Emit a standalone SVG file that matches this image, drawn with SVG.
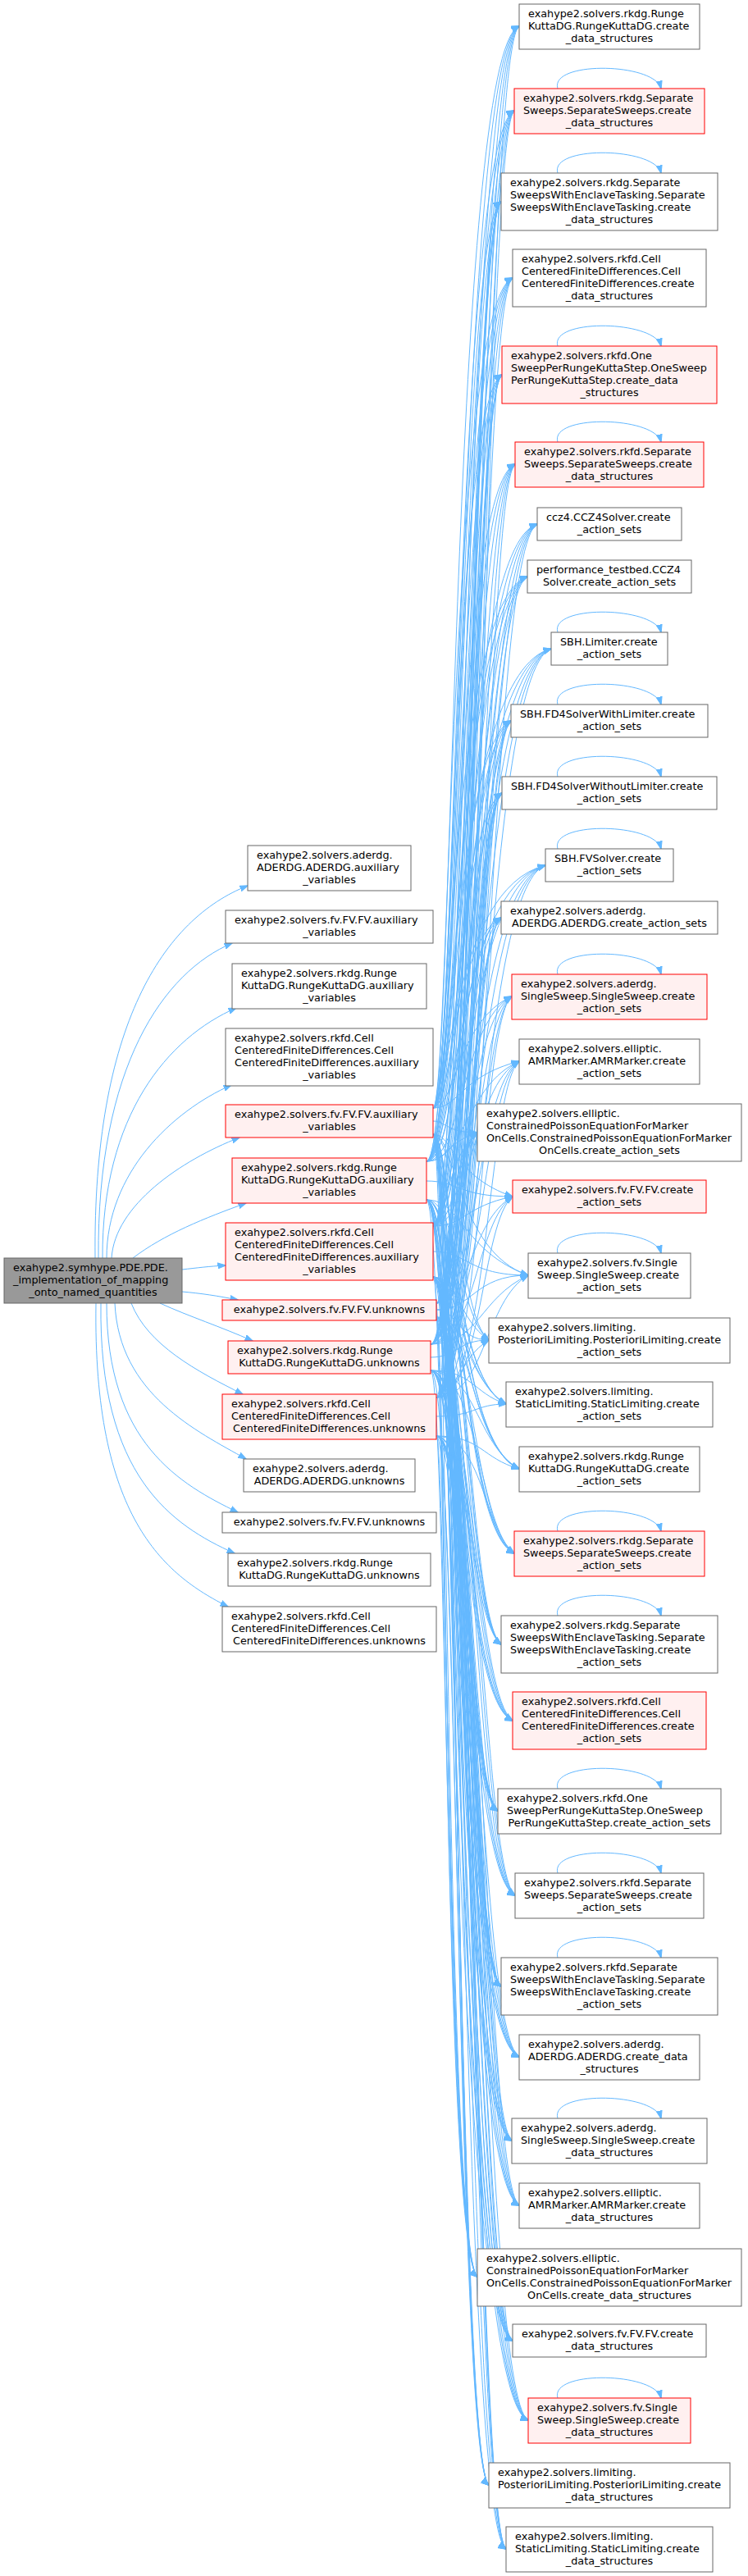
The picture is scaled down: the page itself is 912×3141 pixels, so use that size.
<svg xmlns="http://www.w3.org/2000/svg" width="912" height="3141" viewBox="0 0 912 3141">
<style>
text{font-family:"DejaVu Sans","Liberation Sans",sans-serif;font-size:12.8px;fill:#000}
.c{text-anchor:middle}
.w rect{fill:#fff;stroke:#666;stroke-width:1}
.r rect{fill:#fff0f0;stroke:#f00;stroke-width:1}
.g rect{fill:#999;stroke:#666;stroke-width:1}
#edges path{fill:none;stroke:#63b8ff;stroke-width:1;marker-end:url(#a)}
</style>
<defs>
<marker id="a" viewBox="0 0 10 8" markerWidth="10" markerHeight="8" refX="9.5" refY="4" orient="auto" markerUnits="userSpaceOnUse"><path d="M0,0.5L10,4L0,7.5z" fill="#63b8ff" stroke="#63b8ff"/></marker>
</defs>
<rect width="912" height="3141" fill="#fff"/>
<g id="edges">
<!-- root to middle -->
<path d="M116,1534 C113,1250 200,1120 302,1080"/>
<path d="M120,1534 C118,1300 200,1185 283,1150"/>
<path d="M125,1534 C124,1360 205,1265 288,1229"/>
<path d="M130,1534 C130,1430 210,1355 282,1323"/>
<path d="M136,1534 C140,1470 220,1415 292,1387"/>
<path d="M162,1534 C200,1505 250,1485 300,1467"/>
<path d="M222,1548 C240,1546 255,1544 275,1543"/>
<path d="M222,1575 C245,1577 265,1580 290,1585"/>
<path d="M195,1589 C230,1605 270,1618 308,1635"/>
<path d="M160,1589 C180,1640 240,1672 296,1700"/>
<path d="M140,1589 C145,1700 240,1745 300,1779"/>
<path d="M130,1589 C130,1760 220,1810 290,1844"/>
<path d="M123,1589 C120,1800 210,1860 286,1894"/>
<path d="M117,1589 C113,1850 200,1920 278,1959"/>
<!-- M5 -->
<path d="M528,1351 C552,1351 552,62 633,32"/>
<path d="M528,1351 C556,1351 556,165 627,135"/>
<path d="M528,1351 C560,1351 560,276 611,246"/>
<path d="M528,1351 C548,1351 548,369 625,339"/>
<path d="M528,1351 C552,1351 552,487 612,457"/>
<path d="M528,1351 C556,1351 556,596 628,566"/>
<path d="M528,1351 C560,1351 560,669 655,639"/>
<path d="M528,1351 C548,1351 548,733 643,703"/>
<path d="M528,1351 C552,1351 552,821 672,791"/>
<path d="M528,1351 C556,1351 556,909 623,879"/>
<path d="M528,1351 C560,1351 560,997 612,967"/>
<path d="M528,1351 C548,1351 548,1085 665,1055"/>
<path d="M528,1351 C552,1351 552,1149 611,1119"/>
<path d="M528,1351 C556,1351 556,1245 624,1215"/>
<path d="M528,1351 C560,1351 560,1313 633,1294"/>
<path d="M528,1367 C544,1367 544,1381 582,1381"/>
<path d="M528,1383 C552,1383 552,1434 625,1459"/>
<path d="M528,1383 C556,1383 556,1525 644,1555"/>
<path d="M528,1383 C558,1383 558,1604 596,1634"/>
<path d="M528,1383 C548,1383 548,1682 617,1712"/>
<path d="M528,1383 C552,1383 552,1761 633,1791"/>
<path d="M528,1383 C556,1383 556,1864 627,1894"/>
<path d="M528,1383 C560,1383 560,1975 611,2005"/>
<path d="M528,1383 C548,1383 548,2068 625,2098"/>
<path d="M528,1383 C552,1383 552,2178 607,2208"/>
<path d="M528,1383 C556,1383 556,2281 628,2311"/>
<path d="M528,1383 C560,1383 560,2392 611,2422"/>
<path d="M528,1383 C548,1383 548,2478 633,2508"/>
<path d="M528,1383 C552,1383 552,2580 624,2610"/>
<path d="M528,1383 C556,1383 556,2659 633,2689"/>
<path d="M528,1383 C544,1383 544,2746 582,2776"/>
<path d="M528,1383 C548,1383 548,2824 625,2854"/>
<path d="M528,1383 C552,1383 552,2921 644,2951"/>
<path d="M528,1383 C556,1383 556,3000 596,3030"/>
<path d="M528,1383 C560,1383 560,3078 617,3108"/>
<!-- M6 -->
<path d="M520,1416 C559,1416 559,62 633,32"/>
<path d="M520,1416 C563,1416 563,165 627,135"/>
<path d="M520,1416 C567,1416 567,276 611,246"/>
<path d="M520,1416 C555,1416 555,369 625,339"/>
<path d="M520,1416 C559,1416 559,487 612,457"/>
<path d="M520,1416 C563,1416 563,596 628,566"/>
<path d="M520,1416 C567,1416 567,669 655,639"/>
<path d="M520,1416 C555,1416 555,733 643,703"/>
<path d="M520,1416 C559,1416 559,821 672,791"/>
<path d="M520,1416 C563,1416 563,909 623,879"/>
<path d="M520,1416 C567,1416 567,997 612,967"/>
<path d="M520,1416 C555,1416 555,1085 665,1055"/>
<path d="M520,1416 C559,1416 559,1149 611,1119"/>
<path d="M520,1416 C563,1416 563,1245 624,1215"/>
<path d="M520,1416 C567,1416 567,1324 633,1294"/>
<path d="M520,1416 C544,1416 544,1393 582,1381"/>
<path d="M520,1440 C559,1440 559,1459 625,1459"/>
<path d="M520,1463 C563,1463 563,1525 644,1555"/>
<path d="M520,1463 C558,1463 558,1604 596,1634"/>
<path d="M520,1463 C555,1463 555,1682 617,1712"/>
<path d="M520,1463 C559,1463 559,1761 633,1791"/>
<path d="M520,1463 C563,1463 563,1864 627,1894"/>
<path d="M520,1463 C567,1463 567,1975 611,2005"/>
<path d="M520,1463 C555,1463 555,2068 625,2098"/>
<path d="M520,1463 C559,1463 559,2178 607,2208"/>
<path d="M520,1463 C563,1463 563,2281 628,2311"/>
<path d="M520,1463 C567,1463 567,2392 611,2422"/>
<path d="M520,1463 C555,1463 555,2478 633,2508"/>
<path d="M520,1463 C559,1463 559,2580 624,2610"/>
<path d="M520,1463 C563,1463 563,2659 633,2689"/>
<path d="M520,1463 C544,1463 544,2746 582,2776"/>
<path d="M520,1463 C555,1463 555,2824 625,2854"/>
<path d="M520,1463 C559,1463 559,2921 644,2951"/>
<path d="M520,1463 C558,1463 558,3000 596,3030"/>
<path d="M520,1463 C567,1463 567,3078 617,3108"/>
<!-- M7 -->
<path d="M528,1495 C566,1495 566,62 633,32"/>
<path d="M528,1495 C570,1495 570,165 627,135"/>
<path d="M528,1495 C573,1495 573,276 611,246"/>
<path d="M528,1495 C562,1495 562,369 625,339"/>
<path d="M528,1495 C566,1495 566,487 612,457"/>
<path d="M528,1495 C570,1495 570,596 628,566"/>
<path d="M528,1495 C574,1495 574,669 655,639"/>
<path d="M528,1495 C562,1495 562,733 643,703"/>
<path d="M528,1495 C566,1495 566,821 672,791"/>
<path d="M528,1495 C570,1495 570,909 623,879"/>
<path d="M528,1495 C574,1495 574,997 612,967"/>
<path d="M528,1495 C562,1495 562,1085 665,1055"/>
<path d="M528,1495 C566,1495 566,1149 611,1119"/>
<path d="M528,1495 C570,1495 570,1245 624,1215"/>
<path d="M528,1495 C574,1495 574,1324 633,1294"/>
<path d="M528,1495 C544,1495 544,1411 582,1381"/>
<path d="M528,1495 C566,1495 566,1471 625,1459"/>
<path d="M528,1526 C570,1526 570,1555 644,1555"/>
<path d="M528,1557 C558,1557 558,1608 596,1634"/>
<path d="M528,1557 C562,1557 562,1682 617,1712"/>
<path d="M528,1557 C566,1557 566,1761 633,1791"/>
<path d="M528,1557 C570,1557 570,1864 627,1894"/>
<path d="M528,1557 C573,1557 573,1975 611,2005"/>
<path d="M528,1557 C562,1557 562,2068 625,2098"/>
<path d="M528,1557 C566,1557 566,2178 607,2208"/>
<path d="M528,1557 C570,1557 570,2281 628,2311"/>
<path d="M528,1557 C573,1557 573,2392 611,2422"/>
<path d="M528,1557 C562,1557 562,2478 633,2508"/>
<path d="M528,1557 C566,1557 566,2580 624,2610"/>
<path d="M528,1557 C570,1557 570,2659 633,2689"/>
<path d="M528,1557 C544,1557 544,2746 582,2776"/>
<path d="M528,1557 C562,1557 562,2824 625,2854"/>
<path d="M528,1557 C566,1557 566,2921 644,2951"/>
<path d="M528,1557 C558,1557 558,3000 596,3030"/>
<path d="M528,1557 C574,1557 574,3078 617,3108"/>
<!-- M8 -->
<path d="M532,1589 C573,1589 573,62 633,32"/>
<path d="M532,1589 C577,1589 577,165 627,135"/>
<path d="M532,1589 C573,1589 573,276 611,246"/>
<path d="M532,1589 C569,1589 569,369 625,339"/>
<path d="M532,1589 C573,1589 573,487 612,457"/>
<path d="M532,1589 C577,1589 577,596 628,566"/>
<path d="M532,1589 C581,1589 581,669 655,639"/>
<path d="M532,1589 C569,1589 569,733 643,703"/>
<path d="M532,1589 C573,1589 573,821 672,791"/>
<path d="M532,1589 C577,1589 577,909 623,879"/>
<path d="M532,1589 C574,1589 574,997 612,967"/>
<path d="M532,1589 C569,1589 569,1085 665,1055"/>
<path d="M532,1589 C573,1589 573,1149 611,1119"/>
<path d="M532,1589 C577,1589 577,1245 624,1215"/>
<path d="M532,1589 C581,1589 581,1324 633,1294"/>
<path d="M532,1589 C544,1589 544,1411 582,1381"/>
<path d="M532,1589 C573,1589 573,1489 625,1459"/>
<path d="M532,1597 C577,1597 577,1555 644,1555"/>
<path d="M532,1597 C558,1597 558,1634 596,1634"/>
<path d="M532,1606 C569,1606 569,1682 617,1712"/>
<path d="M532,1606 C573,1606 573,1761 633,1791"/>
<path d="M532,1606 C577,1606 577,1864 627,1894"/>
<path d="M532,1606 C573,1606 573,1975 611,2005"/>
<path d="M532,1606 C569,1606 569,2068 625,2098"/>
<path d="M532,1606 C569,1606 569,2178 607,2208"/>
<path d="M532,1606 C577,1606 577,2281 628,2311"/>
<path d="M532,1606 C573,1606 573,2392 611,2422"/>
<path d="M532,1606 C569,1606 569,2478 633,2508"/>
<path d="M532,1606 C573,1606 573,2580 624,2610"/>
<path d="M532,1606 C577,1606 577,2659 633,2689"/>
<path d="M532,1606 C544,1606 544,2746 582,2776"/>
<path d="M532,1606 C569,1606 569,2824 625,2854"/>
<path d="M532,1606 C573,1606 573,2921 644,2951"/>
<path d="M532,1606 C558,1606 558,3000 596,3030"/>
<path d="M532,1606 C579,1606 579,3078 617,3108"/>
<!-- M9 -->
<path d="M525,1639 C580,1639 580,62 633,32"/>
<path d="M525,1639 C584,1639 584,165 627,135"/>
<path d="M525,1639 C573,1639 573,276 611,246"/>
<path d="M525,1639 C576,1639 576,369 625,339"/>
<path d="M525,1639 C574,1639 574,487 612,457"/>
<path d="M525,1639 C584,1639 584,596 628,566"/>
<path d="M525,1639 C588,1639 588,669 655,639"/>
<path d="M525,1639 C576,1639 576,733 643,703"/>
<path d="M525,1639 C580,1639 580,821 672,791"/>
<path d="M525,1639 C584,1639 584,909 623,879"/>
<path d="M525,1639 C574,1639 574,997 612,967"/>
<path d="M525,1639 C576,1639 576,1085 665,1055"/>
<path d="M525,1639 C573,1639 573,1149 611,1119"/>
<path d="M525,1639 C584,1639 584,1245 624,1215"/>
<path d="M525,1639 C588,1639 588,1324 633,1294"/>
<path d="M525,1639 C544,1639 544,1411 582,1381"/>
<path d="M525,1639 C580,1639 580,1489 625,1459"/>
<path d="M525,1639 C584,1639 584,1583 644,1555"/>
<path d="M525,1655 C558,1655 558,1634 596,1634"/>
<path d="M525,1671 C576,1671 576,1698 617,1712"/>
<path d="M525,1671 C580,1671 580,1761 633,1791"/>
<path d="M525,1671 C584,1671 584,1864 627,1894"/>
<path d="M525,1671 C573,1671 573,1975 611,2005"/>
<path d="M525,1671 C576,1671 576,2068 625,2098"/>
<path d="M525,1671 C569,1671 569,2178 607,2208"/>
<path d="M525,1671 C584,1671 584,2281 628,2311"/>
<path d="M525,1671 C573,1671 573,2392 611,2422"/>
<path d="M525,1671 C576,1671 576,2478 633,2508"/>
<path d="M525,1671 C580,1671 580,2580 624,2610"/>
<path d="M525,1671 C584,1671 584,2659 633,2689"/>
<path d="M525,1671 C544,1671 544,2746 582,2776"/>
<path d="M525,1671 C576,1671 576,2824 625,2854"/>
<path d="M525,1671 C580,1671 580,2921 644,2951"/>
<path d="M525,1671 C558,1671 558,3000 596,3030"/>
<path d="M525,1671 C579,1671 579,3078 617,3108"/>
<!-- M10 -->
<path d="M532,1704 C587,1704 587,62 633,32"/>
<path d="M532,1704 C589,1704 589,165 627,135"/>
<path d="M532,1704 C573,1704 573,276 611,246"/>
<path d="M532,1704 C583,1704 583,369 625,339"/>
<path d="M532,1704 C574,1704 574,487 612,457"/>
<path d="M532,1704 C590,1704 590,596 628,566"/>
<path d="M532,1704 C595,1704 595,669 655,639"/>
<path d="M532,1704 C583,1704 583,733 643,703"/>
<path d="M532,1704 C587,1704 587,821 672,791"/>
<path d="M532,1704 C585,1704 585,909 623,879"/>
<path d="M532,1704 C574,1704 574,997 612,967"/>
<path d="M532,1704 C583,1704 583,1085 665,1055"/>
<path d="M532,1704 C573,1704 573,1149 611,1119"/>
<path d="M532,1704 C586,1704 586,1245 624,1215"/>
<path d="M532,1704 C595,1704 595,1324 633,1294"/>
<path d="M532,1704 C544,1704 544,1411 582,1381"/>
<path d="M532,1704 C587,1704 587,1489 625,1459"/>
<path d="M532,1704 C591,1704 591,1585 644,1555"/>
<path d="M532,1704 C558,1704 558,1657 596,1634"/>
<path d="M532,1727 C579,1727 579,1712 617,1712"/>
<path d="M532,1751 C587,1751 587,1778 633,1791"/>
<path d="M532,1751 C589,1751 589,1864 627,1894"/>
<path d="M532,1751 C573,1751 573,1975 611,2005"/>
<path d="M532,1751 C583,1751 583,2068 625,2098"/>
<path d="M532,1751 C569,1751 569,2178 607,2208"/>
<path d="M532,1751 C590,1751 590,2281 628,2311"/>
<path d="M532,1751 C573,1751 573,2392 611,2422"/>
<path d="M532,1751 C583,1751 583,2478 633,2508"/>
<path d="M532,1751 C586,1751 586,2580 624,2610"/>
<path d="M532,1751 C591,1751 591,2659 633,2689"/>
<path d="M532,1751 C544,1751 544,2746 582,2776"/>
<path d="M532,1751 C583,1751 583,2824 625,2854"/>
<path d="M532,1751 C587,1751 587,2921 644,2951"/>
<path d="M532,1751 C558,1751 558,3000 596,3030"/>
<path d="M532,1751 C579,1751 579,3078 617,3108"/>
<!-- self loops -->
<path d="M680,108 C670,74 798,76 806,108"/>
<path d="M680,211 C670,177 798,179 806,211"/>
<path d="M680,422 C670,388 798,390 806,422"/>
<path d="M680,539 C670,505 798,507 806,539"/>
<path d="M680,771 C670,737 798,739 806,771"/>
<path d="M680,859 C670,825 798,827 806,859"/>
<path d="M680,947 C670,913 798,915 806,947"/>
<path d="M680,1035 C670,1001 798,1003 806,1035"/>
<path d="M680,1188 C670,1154 798,1156 806,1188"/>
<path d="M680,1528 C670,1494 798,1496 806,1528"/>
<path d="M680,1867 C670,1833 798,1835 806,1867"/>
<path d="M680,1970 C670,1936 798,1938 806,1970"/>
<path d="M680,2181 C670,2147 798,2149 806,2181"/>
<path d="M680,2284 C670,2250 798,2252 806,2284"/>
<path d="M680,2387 C670,2353 798,2355 806,2387"/>
<path d="M680,2583 C670,2549 798,2551 806,2583"/>
<path d="M680,2924 C670,2890 798,2892 806,2924"/>
</g>

<g id="root" class="g"><rect x="5" y="1534" width="217" height="55"/>
<text x="16" y="1549.5">exahype2.symhype.PDE.PDE.</text><text x="16" y="1564.5">_implementation_of_mapping</text><text class="c" x="113.5" y="1579.5">_onto_named_quantities</text></g>

<g id="m1" class="w"><rect x="302" y="1031" width="199" height="55"/>
<text x="313" y="1046.5">exahype2.solvers.aderdg.</text><text x="313" y="1061.5">ADERDG.ADERDG.auxiliary</text><text class="c" x="401.5" y="1076.5">_variables</text></g>
<g id="m2" class="w"><rect x="275" y="1110" width="253" height="40"/>
<text x="286" y="1125.5">exahype2.solvers.fv.FV.FV.auxiliary</text><text class="c" x="401.5" y="1140.5">_variables</text></g>
<g id="m3" class="w"><rect x="283" y="1175" width="237" height="55"/>
<text x="294" y="1190.5">exahype2.solvers.rkdg.Runge</text><text x="294" y="1205.5">KuttaDG.RungeKuttaDG.auxiliary</text><text class="c" x="401.5" y="1220.5">_variables</text></g>
<g id="m4" class="w"><rect x="275" y="1254" width="253" height="70"/>
<text x="286" y="1269.5">exahype2.solvers.rkfd.Cell</text><text x="286" y="1284.5">CenteredFiniteDifferences.Cell</text><text x="286" y="1299.5">CenteredFiniteDifferences.auxiliary</text><text class="c" x="401.5" y="1314.5">_variables</text></g>
<g id="m5" class="r"><rect x="275" y="1347" width="253" height="40"/>
<text x="286" y="1362.5">exahype2.solvers.fv.FV.FV.auxiliary</text><text class="c" x="401.5" y="1377.5">_variables</text></g>
<g id="m6" class="r"><rect x="283" y="1412" width="237" height="55"/>
<text x="294" y="1427.5">exahype2.solvers.rkdg.Runge</text><text x="294" y="1442.5">KuttaDG.RungeKuttaDG.auxiliary</text><text class="c" x="401.5" y="1457.5">_variables</text></g>
<g id="m7" class="r"><rect x="275" y="1491" width="253" height="70"/>
<text x="286" y="1506.5">exahype2.solvers.rkfd.Cell</text><text x="286" y="1521.5">CenteredFiniteDifferences.Cell</text><text x="286" y="1536.5">CenteredFiniteDifferences.auxiliary</text><text class="c" x="401.5" y="1551.5">_variables</text></g>
<g id="m8" class="r"><rect x="271" y="1585" width="261" height="25"/>
<text class="c" x="401.5" y="1600.5">exahype2.solvers.fv.FV.FV.unknowns</text></g>
<g id="m9" class="r"><rect x="278" y="1635" width="247" height="40"/>
<text x="289" y="1650.5">exahype2.solvers.rkdg.Runge</text><text class="c" x="401.5" y="1665.5">KuttaDG.RungeKuttaDG.unknowns</text></g>
<g id="m10" class="r"><rect x="271" y="1700" width="261" height="55"/>
<text x="282" y="1715.5">exahype2.solvers.rkfd.Cell</text><text x="282" y="1730.5">CenteredFiniteDifferences.Cell</text><text class="c" x="401.5" y="1745.5">CenteredFiniteDifferences.unknowns</text></g>
<g id="m11" class="w"><rect x="297" y="1779" width="209" height="40"/>
<text x="308" y="1794.5">exahype2.solvers.aderdg.</text><text class="c" x="401.5" y="1809.5">ADERDG.ADERDG.unknowns</text></g>
<g id="m12" class="w"><rect x="271" y="1844" width="261" height="25"/>
<text class="c" x="401.5" y="1859.5">exahype2.solvers.fv.FV.FV.unknowns</text></g>
<g id="m13" class="w"><rect x="278" y="1894" width="247" height="40"/>
<text x="289" y="1909.5">exahype2.solvers.rkdg.Runge</text><text class="c" x="401.5" y="1924.5">KuttaDG.RungeKuttaDG.unknowns</text></g>
<g id="m14" class="w"><rect x="271" y="1959" width="261" height="55"/>
<text x="282" y="1974.5">exahype2.solvers.rkfd.Cell</text><text x="282" y="1989.5">CenteredFiniteDifferences.Cell</text><text class="c" x="401.5" y="2004.5">CenteredFiniteDifferences.unknowns</text></g>

<g id="r1" class="w"><rect x="633" y="5" width="220" height="55"/>
<text x="644" y="20.5">exahype2.solvers.rkdg.Runge</text><text x="644" y="35.5">KuttaDG.RungeKuttaDG.create</text><text class="c" x="743" y="50.5">_data_structures</text></g>
<g id="r2" class="r"><rect x="627" y="108" width="232" height="55"/>
<text x="638" y="123.5">exahype2.solvers.rkdg.Separate</text><text x="638" y="138.5">Sweeps.SeparateSweeps.create</text><text class="c" x="743" y="153.5">_data_structures</text></g>
<g id="r3" class="w"><rect x="611" y="211" width="264" height="70"/>
<text x="622" y="226.5">exahype2.solvers.rkdg.Separate</text><text x="622" y="241.5">SweepsWithEnclaveTasking.Separate</text><text x="622" y="256.5">SweepsWithEnclaveTasking.create</text><text class="c" x="743" y="271.5">_data_structures</text></g>
<g id="r4" class="w"><rect x="625" y="304" width="236" height="70"/>
<text x="636" y="319.5">exahype2.solvers.rkfd.Cell</text><text x="636" y="334.5">CenteredFiniteDifferences.Cell</text><text x="636" y="349.5">CenteredFiniteDifferences.create</text><text class="c" x="743" y="364.5">_data_structures</text></g>
<g id="r5" class="r"><rect x="612" y="422" width="262" height="70"/>
<text x="623" y="437.5">exahype2.solvers.rkfd.One</text><text x="623" y="452.5">SweepPerRungeKuttaStep.OneSweep</text><text x="623" y="467.5">PerRungeKuttaStep.create_data</text><text class="c" x="743" y="482.5">_structures</text></g>
<g id="r6" class="r"><rect x="628" y="539" width="230" height="55"/>
<text x="639" y="554.5">exahype2.solvers.rkfd.Separate</text><text x="639" y="569.5">Sweeps.SeparateSweeps.create</text><text class="c" x="743" y="584.5">_data_structures</text></g>
<g id="r7" class="w"><rect x="655" y="619" width="176" height="40"/>
<text x="666" y="634.5">ccz4.CCZ4Solver.create</text><text class="c" x="743" y="649.5">_action_sets</text></g>
<g id="r8" class="w"><rect x="643" y="683" width="200" height="40"/>
<text x="654" y="698.5">performance_testbed.CCZ4</text><text class="c" x="743" y="713.5">Solver.create_action_sets</text></g>
<g id="r9" class="w"><rect x="672" y="771" width="142" height="40"/>
<text x="683" y="786.5">SBH.Limiter.create</text><text class="c" x="743" y="801.5">_action_sets</text></g>
<g id="r10" class="w"><rect x="623" y="859" width="240" height="40"/>
<text x="634" y="874.5">SBH.FD4SolverWithLimiter.create</text><text class="c" x="743" y="889.5">_action_sets</text></g>
<g id="r11" class="w"><rect x="612" y="947" width="262" height="40"/>
<text x="623" y="962.5">SBH.FD4SolverWithoutLimiter.create</text><text class="c" x="743" y="977.5">_action_sets</text></g>
<g id="r12" class="w"><rect x="665" y="1035" width="156" height="40"/>
<text x="676" y="1050.5">SBH.FVSolver.create</text><text class="c" x="743" y="1065.5">_action_sets</text></g>
<g id="r13" class="w"><rect x="611" y="1099" width="264" height="40"/>
<text x="622" y="1114.5">exahype2.solvers.aderdg.</text><text class="c" x="743" y="1129.5">ADERDG.ADERDG.create_action_sets</text></g>
<g id="r14" class="r"><rect x="624" y="1188" width="238" height="55"/>
<text x="635" y="1203.5">exahype2.solvers.aderdg.</text><text x="635" y="1218.5">SingleSweep.SingleSweep.create</text><text class="c" x="743" y="1233.5">_action_sets</text></g>
<g id="r15" class="w"><rect x="633" y="1267" width="220" height="55"/>
<text x="644" y="1282.5">exahype2.solvers.elliptic.</text><text x="644" y="1297.5">AMRMarker.AMRMarker.create</text><text class="c" x="743" y="1312.5">_action_sets</text></g>
<g id="r16" class="w"><rect x="582" y="1346" width="322" height="70"/>
<text x="593" y="1361.5">exahype2.solvers.elliptic.</text><text x="593" y="1376.5">ConstrainedPoissonEquationForMarker</text><text x="593" y="1391.5">OnCells.ConstrainedPoissonEquationForMarker</text><text class="c" x="743" y="1406.5">OnCells.create_action_sets</text></g>
<g id="r17" class="r"><rect x="625" y="1439" width="236" height="40"/>
<text x="636" y="1454.5">exahype2.solvers.fv.FV.FV.create</text><text class="c" x="743" y="1469.5">_action_sets</text></g>
<g id="r18" class="w"><rect x="644" y="1528" width="198" height="55"/>
<text x="655" y="1543.5">exahype2.solvers.fv.Single</text><text x="655" y="1558.5">Sweep.SingleSweep.create</text><text class="c" x="743" y="1573.5">_action_sets</text></g>
<g id="r19" class="w"><rect x="596" y="1607" width="294" height="55"/>
<text x="607" y="1622.5">exahype2.solvers.limiting.</text><text x="607" y="1637.5">PosterioriLimiting.PosterioriLimiting.create</text><text class="c" x="743" y="1652.5">_action_sets</text></g>
<g id="r20" class="w"><rect x="617" y="1685" width="252" height="55"/>
<text x="628" y="1700.5">exahype2.solvers.limiting.</text><text x="628" y="1715.5">StaticLimiting.StaticLimiting.create</text><text class="c" x="743" y="1730.5">_action_sets</text></g>
<g id="r21" class="w"><rect x="633" y="1764" width="220" height="55"/>
<text x="644" y="1779.5">exahype2.solvers.rkdg.Runge</text><text x="644" y="1794.5">KuttaDG.RungeKuttaDG.create</text><text class="c" x="743" y="1809.5">_action_sets</text></g>
<g id="r22" class="r"><rect x="627" y="1867" width="232" height="55"/>
<text x="638" y="1882.5">exahype2.solvers.rkdg.Separate</text><text x="638" y="1897.5">Sweeps.SeparateSweeps.create</text><text class="c" x="743" y="1912.5">_action_sets</text></g>
<g id="r23" class="w"><rect x="611" y="1970" width="264" height="70"/>
<text x="622" y="1985.5">exahype2.solvers.rkdg.Separate</text><text x="622" y="2000.5">SweepsWithEnclaveTasking.Separate</text><text x="622" y="2015.5">SweepsWithEnclaveTasking.create</text><text class="c" x="743" y="2030.5">_action_sets</text></g>
<g id="r24" class="r"><rect x="625" y="2063" width="236" height="70"/>
<text x="636" y="2078.5">exahype2.solvers.rkfd.Cell</text><text x="636" y="2093.5">CenteredFiniteDifferences.Cell</text><text x="636" y="2108.5">CenteredFiniteDifferences.create</text><text class="c" x="743" y="2123.5">_action_sets</text></g>
<g id="r25" class="w"><rect x="607" y="2181" width="272" height="55"/>
<text x="618" y="2196.5">exahype2.solvers.rkfd.One</text><text x="618" y="2211.5">SweepPerRungeKuttaStep.OneSweep</text><text class="c" x="743" y="2226.5">PerRungeKuttaStep.create_action_sets</text></g>
<g id="r26" class="w"><rect x="628" y="2284" width="230" height="55"/>
<text x="639" y="2299.5">exahype2.solvers.rkfd.Separate</text><text x="639" y="2314.5">Sweeps.SeparateSweeps.create</text><text class="c" x="743" y="2329.5">_action_sets</text></g>
<g id="r27" class="w"><rect x="611" y="2387" width="264" height="70"/>
<text x="622" y="2402.5">exahype2.solvers.rkfd.Separate</text><text x="622" y="2417.5">SweepsWithEnclaveTasking.Separate</text><text x="622" y="2432.5">SweepsWithEnclaveTasking.create</text><text class="c" x="743" y="2447.5">_action_sets</text></g>
<g id="r28" class="w"><rect x="633" y="2481" width="220" height="55"/>
<text x="644" y="2496.5">exahype2.solvers.aderdg.</text><text x="644" y="2511.5">ADERDG.ADERDG.create_data</text><text class="c" x="743" y="2526.5">_structures</text></g>
<g id="r29" class="w"><rect x="624" y="2583" width="238" height="55"/>
<text x="635" y="2598.5">exahype2.solvers.aderdg.</text><text x="635" y="2613.5">SingleSweep.SingleSweep.create</text><text class="c" x="743" y="2628.5">_data_structures</text></g>
<g id="r30" class="w"><rect x="633" y="2662" width="220" height="55"/>
<text x="644" y="2677.5">exahype2.solvers.elliptic.</text><text x="644" y="2692.5">AMRMarker.AMRMarker.create</text><text class="c" x="743" y="2707.5">_data_structures</text></g>
<g id="r31" class="w"><rect x="582" y="2742" width="322" height="70"/>
<text x="593" y="2757.5">exahype2.solvers.elliptic.</text><text x="593" y="2772.5">ConstrainedPoissonEquationForMarker</text><text x="593" y="2787.5">OnCells.ConstrainedPoissonEquationForMarker</text><text class="c" x="743" y="2802.5">OnCells.create_data_structures</text></g>
<g id="r32" class="w"><rect x="625" y="2834" width="236" height="40"/>
<text x="636" y="2849.5">exahype2.solvers.fv.FV.FV.create</text><text class="c" x="743" y="2864.5">_data_structures</text></g>
<g id="r33" class="r"><rect x="644" y="2924" width="198" height="55"/>
<text x="655" y="2939.5">exahype2.solvers.fv.Single</text><text x="655" y="2954.5">Sweep.SingleSweep.create</text><text class="c" x="743" y="2969.5">_data_structures</text></g>
<g id="r34" class="w"><rect x="596" y="3003" width="294" height="55"/>
<text x="607" y="3018.5">exahype2.solvers.limiting.</text><text x="607" y="3033.5">PosterioriLimiting.PosterioriLimiting.create</text><text class="c" x="743" y="3048.5">_data_structures</text></g>
<g id="r35" class="w"><rect x="617" y="3081" width="252" height="55"/>
<text x="628" y="3096.5">exahype2.solvers.limiting.</text><text x="628" y="3111.5">StaticLimiting.StaticLimiting.create</text><text class="c" x="743" y="3126.5">_data_structures</text></g>
</svg>
